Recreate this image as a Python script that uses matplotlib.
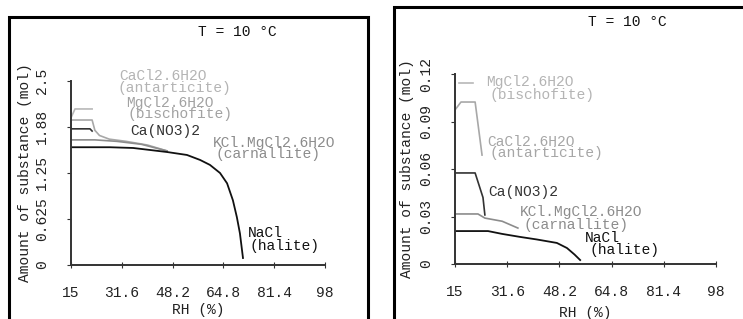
import matplotlib.pyplot as plt
from matplotlib.patches import Rectangle

W, H = 743, 319

# x ticks (RH %)
rh_ticks = [15, 31.6, 48.2, 64.8, 81.4, 98]
rh_labels = ["15", "31.6", "48.2", "64.8", "81.4", "98"]

# left panel data (mol)
l_yticks = [0, 0.625, 1.25, 1.88, 2.5]
l_ylabels = ["0", "0.625", "1.25", "1.88", "2.5"]
l_nacl_x = [15, 27.7, 35.3, 46.4, 52.9, 57.2, 60.4, 63.7, 66.0, 67.9, 69.2, 70.2, 71.2]
l_nacl_y = [1.60, 1.60, 1.59, 1.535, 1.495, 1.427, 1.36, 1.25, 1.11, 0.88, 0.65, 0.43, 0.095]
l_kcl_x = [15, 22.8, 30, 38, 46.4]
l_kcl_y = [1.70, 1.70, 1.68, 1.64, 1.55]
l_cano3_x = [15, 21.2, 21.9]
l_cano3_y = [1.85, 1.85, 1.82]
l_mgcl_x = [15, 21.9, 22.8, 24.3, 27.5, 33, 40, 46.4]
l_mgcl_y = [1.97, 1.97, 1.83, 1.76, 1.71, 1.68, 1.63, 1.55]
l_cacl_x = [15, 16.3, 21.9]
l_cacl_y = [2.0, 2.12, 2.12]

# right panel data (mol)
r_yticks = [0, 0.03, 0.06, 0.09, 0.12]
r_ylabels = ["0", "0.03", "0.06", "0.09", "0.12"]
r_nacl_x = [15, 25.5, 30, 35.7, 41, 47.4, 50.6, 53, 54.8]
r_nacl_y = [0.0208, 0.0208, 0.019, 0.0171, 0.0155, 0.0133, 0.0101, 0.006, 0.0025]
r_kcl_x = [15, 22.3, 24.5, 30, 35]
r_kcl_y = [0.0316, 0.0316, 0.029, 0.027, 0.0227]
r_cano3_x = [15, 21.4, 23.9, 24.5]
r_cano3_y = [0.0575, 0.0575, 0.042, 0.031]
r_cacl_x = [15, 16.9, 21.4, 23.6]
r_cacl_y = [0.0973, 0.1023, 0.1023, 0.0688]
r_mgcl_x = [16.3, 20.7]
r_mgcl_y = [0.114, 0.114]

FONT = "Liberation Mono"
FS = 10.5
plt.rcParams['font.family'] = [FONT, 'DejaVu Sans Mono']

fig = plt.figure(figsize=(W / 100, H / 100), dpi=100)


def px(x, y):
    return x / W, 1 - y / H


def label(x, y, s, color):
    fx, fy = px(x, y)
    fig.text(fx, fy, s, color=color, fontsize=FS, ha='left', va='center')


def make_axes(left, right, top, bottom, yticks, ylabels, ymax, lab_x, xl_y):
    x0, y0 = px(left, bottom)
    x1, y1 = px(right, top)
    ax = fig.add_axes([x0, y0, x1 - x0, y1 - y0])
    ax.set_xlim(15, 98)
    ax.set_ylim(0, ymax)
    for s in ['top', 'right']:
        ax.spines[s].set_visible(False)
    for s in ['left', 'bottom']:
        ax.spines[s].set_color('#333333')
        ax.spines[s].set_linewidth(1.4)
    ax.set_xticks(rh_ticks)
    ax.set_xticklabels(rh_labels, fontsize=FS)
    ax.set_yticks(yticks)
    ax.set_yticklabels(ylabels, fontsize=FS, rotation=90, va='center')
    ax.tick_params(axis='x', direction='inout', length=4, pad=13, colors='#333333', labelcolor='#222222')
    ax.tick_params(axis='y', direction='out', length=3, pad=13, colors='#333333', labelcolor='#222222')
    ax.set_ylabel("Amount of substance (mol)", fontsize=FS, color='#222222')
    ax.yaxis.set_label_coords(lab_x, 0.5)
    ax.set_xlabel("RH (%)", fontsize=FS, color='#222222')
    ax.xaxis.set_label_coords(0.5, xl_y)
    ax.patch.set_alpha(0)
    return ax


# panel frames
fig.add_artist(Rectangle(px(9, 330), (368 - 9) / W, (330 - 17) / H, transform=fig.transFigure,
                         fill=False, lw=2.2, ec='black'))
fig.add_artist(Rectangle(px(394, 330), (760 - 394) / W, (330 - 7) / H, transform=fig.transFigure,
                         fill=False, lw=2.2, ec='black'))

# left panel
axl = make_axes(71, 325, 81, 265, l_yticks, l_ylabels, 2.5, -0.154, -0.207)
axl.plot(l_cacl_x, l_cacl_y, color='#b8b8b8', lw=1.2)
axl.plot(l_mgcl_x, l_mgcl_y, color='#a8a8a8', lw=1.2)
axl.plot(l_kcl_x, l_kcl_y, color='#8c8c8c', lw=1.2)
axl.plot(l_cano3_x, l_cano3_y, color='#333333', lw=1.2)
axl.plot(l_nacl_x, l_nacl_y, color='#111111', lw=1.3)
fx, fy = px(237, 32)
fig.text(fx, fy, "T = 10 °C", fontsize=FS, ha='center', va='center', color='#111111')
label(119, 76, "CaCl2.6H2O", '#b4b4b4')
label(118, 88, "(antarticite)", '#b4b4b4')
label(126, 103, "MgCl2.6H2O", '#a2a2a2')
label(128, 114, "(bischofite)", '#a2a2a2')
label(130, 131, "Ca(NO3)2", '#333333')
label(213, 143, "KCl.MgCl2.6H2O", '#8c8c8c')
label(215, 154, "(carnallite)", '#8c8c8c')
label(248, 233, "NaCl", '#111111')
label(250, 246, "(halite)", '#111111')

# right panel
axr = make_axes(455, 716, 74, 264, r_yticks, r_ylabels, 0.12, -0.157, -0.221)
axr.plot(r_mgcl_x, r_mgcl_y, color='#b8b8b8', lw=1.2)
axr.plot(r_cacl_x, r_cacl_y, color='#a8a8a8', lw=1.2)
axr.plot(r_kcl_x, r_kcl_y, color='#8c8c8c', lw=1.2)
axr.plot(r_cano3_x, r_cano3_y, color='#333333', lw=1.2)
axr.plot(r_nacl_x, r_nacl_y, color='#111111', lw=1.3)
fx, fy = px(627, 22)
fig.text(fx, fy, "T = 10 °C", fontsize=FS, ha='center', va='center', color='#111111')
label(486, 82, "MgCl2.6H2O", '#b4b4b4')
label(489, 95, "(bischofite)", '#b4b4b4')
label(487, 142, "CaCl2.6H2O", '#a6a6a6')
label(489, 153, "(antarticite)", '#a6a6a6')
label(488, 192, "Ca(NO3)2", '#333333')
label(520, 212, "KCl.MgCl2.6H2O", '#8c8c8c')
label(523, 225, "(carnallite)", '#8c8c8c')
label(585, 238, "NaCl", '#111111')
label(589, 250, "(halite)", '#111111')

fig.savefig("out.png", dpi=100)
